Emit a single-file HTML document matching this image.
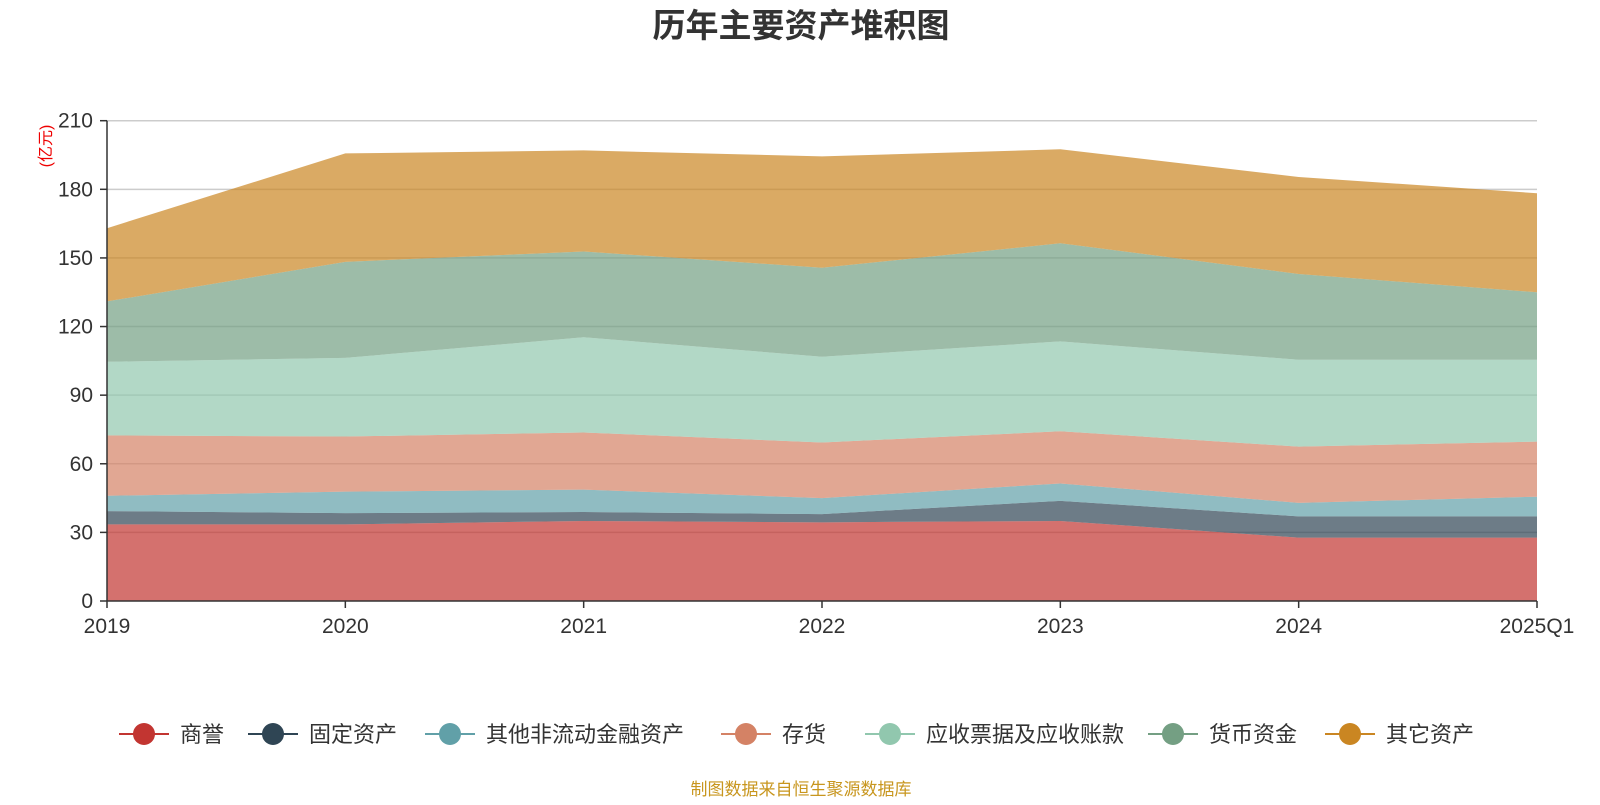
<!DOCTYPE html>
<html><head><meta charset="utf-8"><style>
body{margin:0;background:#fff;width:1600px;height:800px;overflow:hidden;font-family:"Liberation Sans","Noto Sans CJK SC",sans-serif}
</style></head><body>
<svg id="c" width="1600" height="800" font-family="Liberation Sans, Noto Sans CJK SC, sans-serif">
<text x="801" y="37" text-anchor="middle" font-size="33" font-weight="bold" fill="#333">历年主要资产堆积图</text>
<text transform="translate(51,146) rotate(-90)" text-anchor="middle" font-size="16" fill="#e00">(亿元)</text>
<g id="grid"></g><g id="areas"></g><g id="axes"></g><g id="legend"></g>
<text x="801" y="795" text-anchor="middle" font-size="17" fill="#c8961e">制图数据来自恒生聚源数据库</text>
</svg>
<script>
const categories=["2019","2020","2021","2022","2023","2024","2025Q1"];
const seriesNames=["商誉","固定资产","其他非流动金融资产","存货","应收票据及应收账款","货币资金","其它资产"];
const goodwill=[33.5,33.5,35,34.4,35,27.7,27.7];
const fixedAssets=[5.8,4.9,3.9,3.6,8.8,9.3,9.3];
const otherFinAssets=[6.7,9.4,9.8,7,7.6,5.9,8.6];
const inventory=[26.4,24.1,25,24.3,22.8,24.6,24.1];
const receivables=[32.2,34.4,41.6,37.5,39.3,38,35.8];
const cash=[26.4,42,37.5,38.9,42.9,37.5,29.5];
const otherAssets=[32,47.4,44.2,48.7,41.1,42.4,43.3];
const yTicks=[0,30,60,90,120,150,180,210];
const colors=["#c23531","#2f4554","#61a0a8","#d48265","#91c7ae","#749f83","#ca8622"];
const series=[goodwill,fixedAssets,otherFinAssets,inventory,receivables,cash,otherAssets];
const X0=107,X1=1537,Y0=601,Y1=120.7;
const xs=i=>X0+(X1-X0)*i/(categories.length-1);
const ys=v=>Y0-(Y0-Y1)*v/210;
const NS="http://www.w3.org/2000/svg";
function mk(t,a,p){const e=document.createElementNS(NS,t);for(const k in a)e.setAttribute(k,a[k]);p.appendChild(e);return e;}
const grid=document.getElementById('grid'),areas=document.getElementById('areas'),axes=document.getElementById('axes'),legend=document.getElementById('legend');
yTicks.forEach(t=>{
 if(t>0){const l=mk('line',{x1:X0,x2:X1,y1:ys(t),y2:ys(t),stroke:'#ccc','stroke-width':1.5},grid);
 
 }
 const tk=mk('line',{x1:X0-7,x2:X0,y1:ys(t),y2:ys(t),stroke:'#333','stroke-width':1.5},axes);
 
 
 const tx=mk('text',{x:X0-14,y:ys(t)+7,'text-anchor':'end','font-size':21,fill:'#333'},axes);
 tx.textContent=t;
 
 
});
let base=categories.map(()=>0);
series.forEach((s,si)=>{
 const top=base.map((b,i)=>b+s[i]);
 let d='M'+top.map((v,i)=>xs(i)+','+ys(v)).join('L');
 for(let i=categories.length-1;i>=0;i--)d+='L'+xs(i)+','+ys(base[i]);
 const p=mk('path',{d:d+'Z',fill:colors[si],'fill-opacity':0.7},areas);
 
 
 base=top;
});
const ax=mk('line',{x1:X0,x2:X1,y1:Y0,y2:Y0,stroke:'#333','stroke-width':1.5},axes);


const ay=mk('line',{x1:X0,x2:X0,y1:Y1,y2:Y0,stroke:'#333','stroke-width':1.5},axes);


categories.forEach((c,i)=>{
 const tk=mk('line',{x1:xs(i),x2:xs(i),y1:Y0,y2:Y0+7,stroke:'#333','stroke-width':1.5},axes);
 
 
 const tx=mk('text',{x:xs(i),y:Y0+32,'text-anchor':'middle','font-size':21,fill:'#333'},axes);
 tx.textContent=c;
 
 
});
const lx=[119,248,425,721,865,1148,1325];
seriesNames.forEach((n,i)=>{
 const g=mk('g',{},legend);
 
 
 mk('line',{x1:lx[i],x2:lx[i]+50,y1:734,y2:734,stroke:colors[i],'stroke-width':2},g);
 mk('circle',{cx:lx[i]+25,cy:734,r:11,fill:colors[i]},g);
 const t=mk('text',{x:lx[i]+61,y:742,'font-size':22,fill:'#333'},g);
 t.textContent=n;
});
</script>
</body></html>
